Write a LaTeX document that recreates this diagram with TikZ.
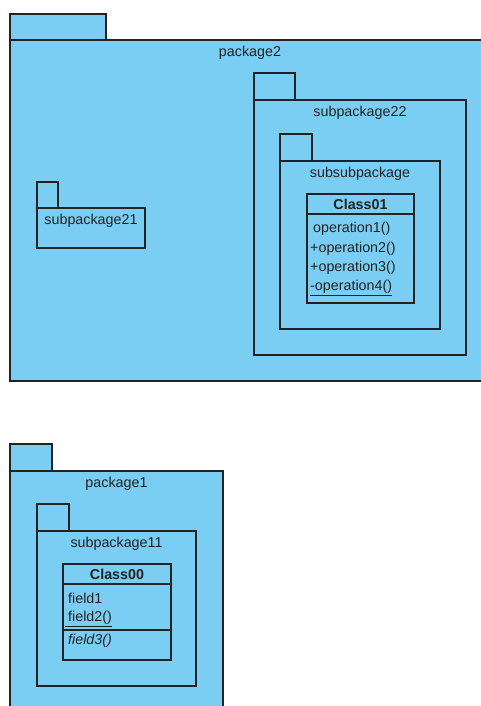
\documentclass[tikz,border=0pt]{standalone}
\usepackage{fontspec}
\setmainfont{Liberation Sans}
\usetikzlibrary{positioning}

\definecolor{pkgblue}{RGB}{122,206,243}
\definecolor{pkgline}{RGB}{34,34,34}

\begin{document}
\begin{tikzpicture}[x=1pt, y=-1pt,
        pkg/.style={rectangle, draw=pkgline, fill=pkgblue, line width=1.3pt, inner sep=0pt, outer sep=0pt, anchor=north west},
        pkgtab/.style={pkg, anchor=south west},
        classbox/.style={pkg},
        classline/.style={draw=pkgline, line width=1.3pt},
        pkgname/.style={font=\fontsize{14.3}{17}\selectfont, text=pkgline, inner sep=0pt},
        member/.style={pkgname, anchor=west}]

    \useasboundingbox (0,0) rectangle (481,706);
    \fill[white] (0,0) rectangle (481,706);
    \clip (0,0) rectangle (481,706);

    % package2 and what it holds
    \node (p2) [pkg, minimum width=480, minimum height=341] at (10,40) {};
    \node (p2tab) [pkgtab, minimum width=96, minimum height=26, above right=0pt and 0pt of p2.north west] {};
    \node (p2name) [pkgname, below=6pt of p2.north] {package2};

    \node (sp21) [pkg, minimum width=108, minimum height=40] at (37,208) {};
    \node (sp21tab) [pkgtab, minimum width=21, minimum height=26, above right=0pt and 0pt of sp21.north west] {};
    \node (sp21name) [pkgname, below=6pt of sp21.north] {subpackage21};

    \node (sp22) [pkg, minimum width=212, minimum height=255] at (254,100) {};
    \node (sp22tab) [pkgtab, minimum width=41, minimum height=27, above right=0pt and 0pt of sp22.north west] {};
    \node (sp22name) [pkgname, below=6pt of sp22.north] {subpackage22};

    \node (ssp) [pkg, minimum width=160, minimum height=168] at (280,161) {};
    \node (ssptab) [pkgtab, minimum width=32, minimum height=27, above right=0pt and 0pt of ssp.north west] {};
    \node (sspname) [pkgname, below=6pt of ssp.north] {subsubpackage};

    \node (c01) [classbox, minimum width=107, minimum height=109] at (307,194) {};
    \draw [classline] ([yshift=-20pt]c01.north west) -- ([yshift=-20pt]c01.north east);
    \node (c01name) [pkgname, font=\fontsize{14.3}{17}\selectfont\bfseries] at ([yshift=-10pt]c01.north) {Class01};
    \node (op1) [member] at (313,229) {operation1()};
    \node (op2) [member] at (310,249) {+operation2()};
    \node (op3) [member] at (310,268) {+operation3()};
    \node (op4) [member] at (310,288) {\underline{-operation4()}};

    % package1 and what it holds
    \node (p1) [pkg, minimum width=213, minimum height=300] at (10,471) {};
    \node (p1tab) [pkgtab, minimum width=42, minimum height=27, above right=0pt and 0pt of p1.north west] {};
    \node (p1name) [pkgname, below=6pt of p1.north] {package1};

    \node (sp11) [pkg, minimum width=159, minimum height=155] at (37,531) {};
    \node (sp11tab) [pkgtab, minimum width=32, minimum height=27, above right=0pt and 0pt of sp11.north west] {};
    \node (sp11name) [pkgname, below=6pt of sp11.north] {subpackage11};

    \node (c00) [classbox, minimum width=108, minimum height=96] at (63,564) {};
    \draw [classline] ([yshift=-20pt]c00.north west) -- ([yshift=-20pt]c00.north east);
    \draw [classline] ([yshift=-66pt]c00.north west) -- ([yshift=-66pt]c00.north east);
    \node (c00name) [pkgname, font=\fontsize{14.3}{17}\selectfont\bfseries] at ([yshift=-10pt]c00.north) {Class00};
    \node (f1) [member] at (68,598) {field1};
    \node (f2) [member] at (65,619) {\underline{\hspace{3pt}field2()}};
    \node (f3) [member, font=\fontsize{14.3}{17}\selectfont\itshape] at (68,641) {field3()};
\end{tikzpicture}
\end{document}
